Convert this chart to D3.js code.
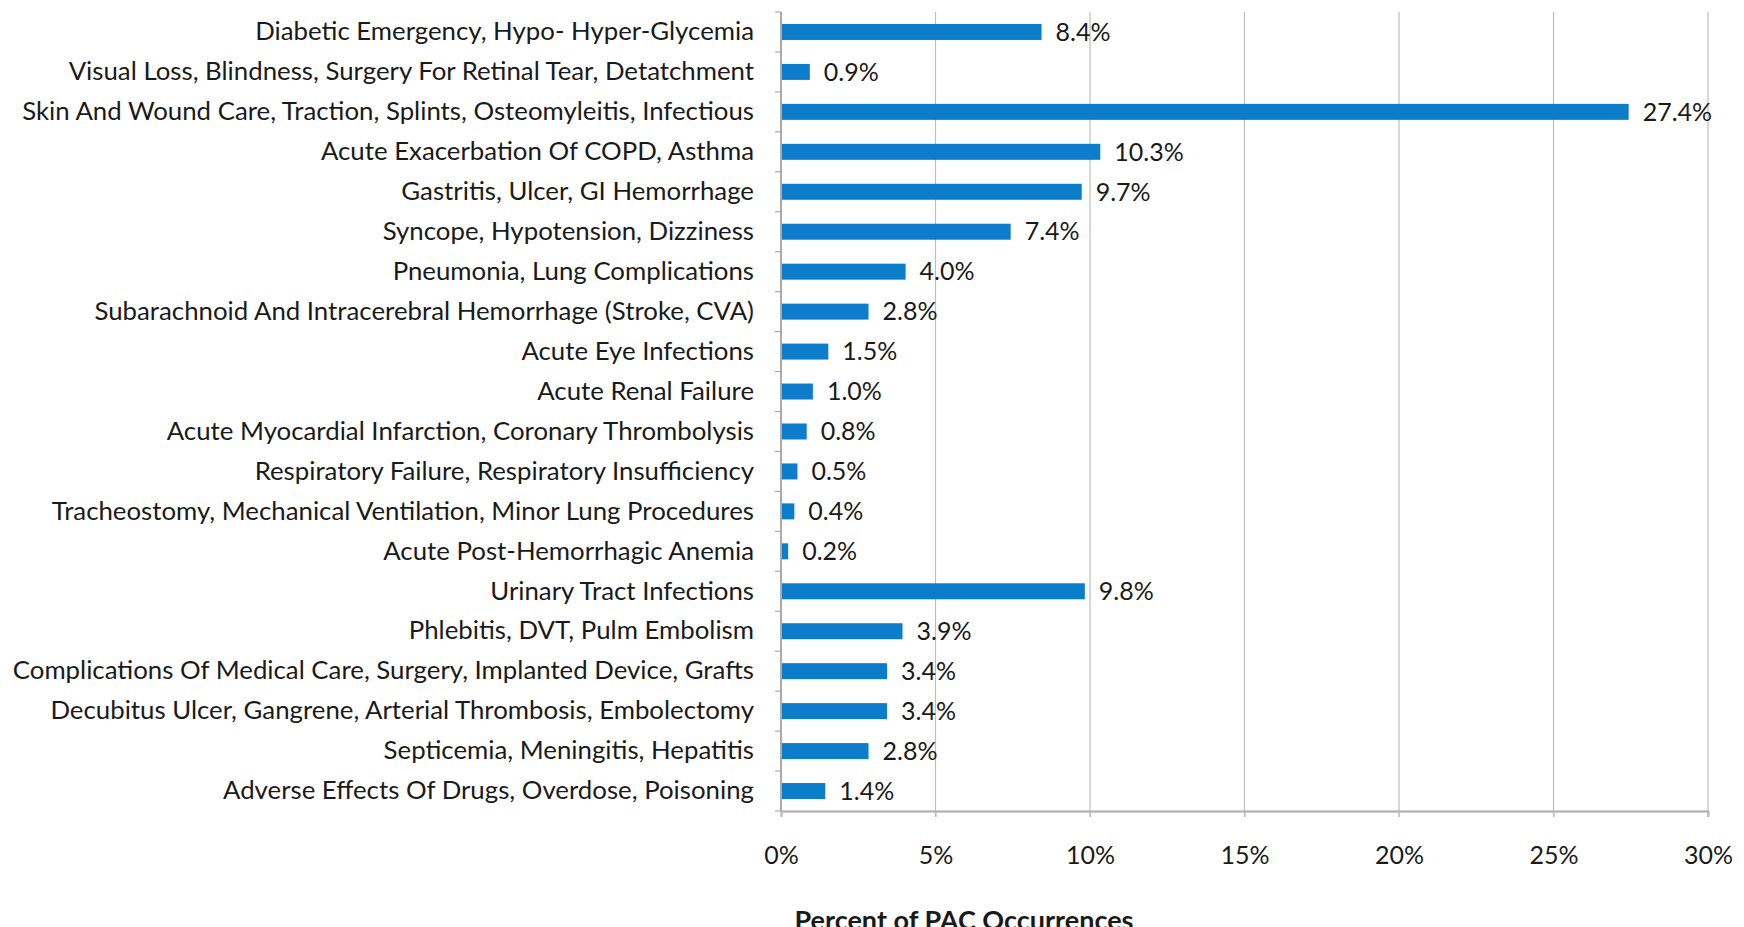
<!DOCTYPE html>
<html>
<head>
<meta charset="utf-8" />
<title>Percent of PAC Occurrences</title>
<script src="https://d3js.org/d3.v7.min.js"></script>
<style>
  body { margin: 0; background: #ffffff; overflow: hidden; }
  text { font-family: Lato, "Open Sans", sans-serif; fill: #1a1a1a; }
</style>
</head>
<body>
<svg id="viz"></svg>
<script>

// categories, top to bottom
var categories = [
  "Diabetic Emergency, Hypo- Hyper-Glycemia",
  "Visual Loss, Blindness, Surgery For Retinal Tear, Detatchment",
  "Skin And Wound Care, Traction, Splints, Osteomyleitis, Infectious",
  "Acute Exacerbation Of COPD, Asthma",
  "Gastritis, Ulcer, GI Hemorrhage",
  "Syncope, Hypotension, Dizziness",
  "Pneumonia, Lung Complications",
  "Subarachnoid And Intracerebral Hemorrhage (Stroke, CVA)",
  "Acute Eye Infections",
  "Acute Renal Failure",
  "Acute Myocardial Infarction, Coronary Thrombolysis",
  "Respiratory Failure, Respiratory Insufficiency",
  "Tracheostomy, Mechanical Ventilation, Minor Lung Procedures",
  "Acute Post-Hemorrhagic Anemia",
  "Urinary Tract Infections",
  "Phlebitis, DVT, Pulm Embolism",
  "Complications Of Medical Care, Surgery, Implanted Device, Grafts",
  "Decubitus Ulcer, Gangrene, Arterial Thrombosis, Embolectomy",
  "Septicemia, Meningitis, Hepatitis",
  "Adverse Effects Of Drugs, Overdose, Poisoning"
];

// percent of PAC occurrences
var values = [8.4, 0.9, 27.4, 10.3, 9.7, 7.4, 4.0, 2.8, 1.5, 1.0,
              0.8, 0.5, 0.4, 0.2, 9.8, 3.9, 3.4, 3.4, 2.8, 1.4];

var xTicks = [0, 5, 10, 15, 20, 25, 30];
var axisTitle = "Percent of PAC Occurrences";

var width = 1744, height = 927;
var margin = {top: 12, right: 36, bottom: 116, left: 781};

var svg = d3.select("#viz")
  .attr("width", width)
  .attr("height", height);

var x = d3.scaleLinear()
  .domain([0, 30])
  .range([margin.left, width - margin.right]);

var y = d3.scaleBand()
  .domain(categories)
  .range([margin.top, height - margin.bottom])
  .paddingInner(0.6)
  .paddingOuter(0.3);

var plotBottom = height - margin.bottom;

// gridlines
svg.append("g")
  .selectAll("line")
  .data(xTicks.slice(1))
  .enter().append("line")
  .attr("x1", function(d) { return x(d); })
  .attr("x2", function(d) { return x(d); })
  .attr("y1", margin.top)
  .attr("y2", plotBottom + 6)
  .attr("stroke", "#bdbdbd")
  .attr("stroke-width", 1.2);

// bottom axis
var xAxis = svg.append("g")
  .attr("transform", "translate(0," + plotBottom + ")")
  .call(d3.axisBottom(x)
    .tickValues(xTicks)
    .tickSize(6)
    .tickPadding(29)
    .tickFormat(function(d) { return d + "%"; }));
xAxis.select(".domain").attr("stroke", "#aaaaaa").attr("stroke-width", 2);
xAxis.selectAll(".tick line").attr("stroke", "#bdbdbd").attr("stroke-width", 1.2);
xAxis.selectAll("text")
  .style("font-family", "Lato, 'Open Sans', sans-serif")
  .style("font-size", "25px")
  .attr("fill", "#1a1a1a");

// left axis with category labels
var yAxis = svg.append("g")
  .attr("transform", "translate(" + margin.left + ",0)")
  .call(d3.axisLeft(y).tickSize(0).tickPadding(27));
yAxis.select(".domain").remove();
yAxis.selectAll("text")
  .style("font-family", "Lato, 'Open Sans', sans-serif")
  .style("font-size", "25.8px")
  .attr("fill", "#1a1a1a");

// vertical axis line and the small ticks between categories
svg.append("line")
  .attr("x1", margin.left).attr("x2", margin.left)
  .attr("y1", margin.top).attr("y2", plotBottom)
  .attr("stroke", "#aaaaaa").attr("stroke-width", 2);

var boundaries = d3.range(categories.length + 1).map(function(i) {
  return margin.top + i * (plotBottom - margin.top) / categories.length;
});
svg.append("g")
  .selectAll("line")
  .data(boundaries)
  .enter().append("line")
  .attr("x1", margin.left - 6).attr("x2", margin.left)
  .attr("y1", function(d) { return d; })
  .attr("y2", function(d) { return d; })
  .attr("stroke", "#aaaaaa").attr("stroke-width", 1.2);

// bars
svg.append("g")
  .selectAll("rect")
  .data(values)
  .enter().append("rect")
  .attr("x", x(0) + 1)
  .attr("y", function(d, i) { return y(categories[i]); })
  .attr("width", function(d) { return x(d) - x(0); })
  .attr("height", y.bandwidth())
  .attr("fill", "#0b7dcb");

// value labels
svg.append("g")
  .selectAll("text")
  .data(values)
  .enter().append("text")
  .attr("x", function(d) { return x(d) + 15; })
  .attr("y", function(d, i) { return y(categories[i]) + y.bandwidth() / 2; })
  .attr("dy", "0.35em")
  .style("font-size", "25px")
  .text(function(d) { return d.toFixed(1) + "%"; });

// axis title, partly below the bottom edge like the original
svg.append("text")
  .attr("x", 964)
  .attr("y", 930)
  .attr("text-anchor", "middle")
  .style("font-size", "27px")
  .style("font-weight", "bold")
  .text(axisTitle);

</script>
</body>
</html>
